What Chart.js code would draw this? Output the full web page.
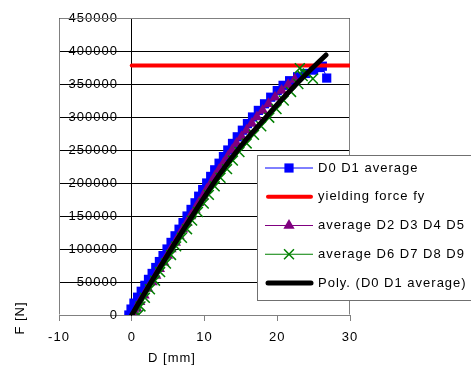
<!DOCTYPE html>
<html><head><meta charset="utf-8">
<script src="https://cdn.jsdelivr.net/npm/chart.js@4/dist/chart.umd.min.js"></script>
<style>html,body{margin:0;padding:0;background:#fff}#wrap{width:471px;height:366px;position:relative}</style>
</head><body><div id="wrap"><canvas id="c" width="471" height="366"></canvas></div>
<script>
// ---- data ----
const seriesLabels = ['D0 D1 average', 'yielding force fy', 'average D2 D3 D4 D5', 'average D6 D7 D8 D9', 'Poly. (D0 D1 average)'];

const d0d1D = [-0.4,-0.1,0.3,0.8,1.3,1.8,2.3,2.8,3.3,3.8,4.3,4.85,5.4,5.95,6.5,7.05,7.6,8.15,8.7,9.2,9.75,10.3,10.85,11.4,12.0,12.6,13.2,13.85,14.5,15.2,15.9,16.6,17.4,18.25,19.1,20.0,20.8,21.7,22.8,23.9,25.0,25.8,26.2,26.8];
const d0d1F = [0,9000,18000,27000,36000,45000,54000,63000,72000,81000,90000,100000,110000,120000,130000,140000,150000,160000,170000,180000,190000,200000,210000,220000,230000,240000,250000,260000,270000,280000,290000,300000,310000,320000,330000,340000,348000,355000,361000,366000,371000,375000,377000,359000];

const yieldD = [0, 30];
const yieldF = [378000, 378000];

const d2d5D = [0.6,0.7,1.1,1.7,2.2,2.8,3.3,3.8,4.4,4.9,5.4,6.0,6.5,7.0,7.6,8.1,8.7,9.2,9.8,10.3,10.9,11.4,12.0,12.6,13.2,13.8,14.4,15.1,15.8,16.5,17.2,18.0,18.8,19.7,20.6,21.5,22.4];
const d2d5F = [0,10000,20000,30000,40000,50000,60000,70000,80000,90000,100000,110000,120000,130000,140000,150000,160000,170000,180000,190000,200000,210000,220000,230000,240000,250000,260000,270000,280000,290000,300000,310000,320000,330000,340000,349000,357000];

const d6d9D = [0.9,1.2,1.8,2.5,3.2,3.9,4.7,5.4,6.1,6.9,7.6,8.3,9.1,9.9,10.6,11.4,12.2,13.1,13.9,14.8,15.8,16.8,17.8,18.9,19.9,20.9,21.9,22.9,23.5,23.1,24.2,24.9];
const d6d9F = [0,13000,26000,39000,52000,65000,78000,91000,104000,117000,130000,143000,156000,169000,182000,195000,208000,221000,234000,247000,260000,273000,286000,299000,312000,325000,338000,350000,362000,374000,366000,358000];

const polyD = [0,3,6,9,12,15,18,21,24,26.7];
const polyF = [0,56000,110000,162000,212000,256000,294000,331000,365000,394000];

const xTicks = [-10, 0, 10, 20, 30];
const yTicks = [0,50000,100000,150000,200000,250000,300000,350000,400000,450000];
const xTitle = 'D [mm]';
const yTitle = 'F [N]';

const pts = (xs, ys) => xs.map((x, i) => ({x, y: ys[i]}));
const FONT = '13px "Liberation Sans", Arial, sans-serif';

const decor = {
  id: 'decor',
  beforeDraw(chart) { chart.ctx.letterSpacing = '1px'; },
  beforeDatasetsDraw(chart) {
    const {ctx, chartArea: a} = chart;
    ctx.save();
    ctx.strokeStyle = '#808080';
    ctx.lineWidth = 1;
    ctx.beginPath();
    const l = Math.round(a.left) + 0.5, r = Math.round(a.right) - 0.5, t = Math.round(a.top) + 0.5, b = Math.round(a.bottom) - 0.5;
    ctx.moveTo(l, b); ctx.lineTo(l, t); ctx.lineTo(r, t); ctx.lineTo(r, b);
    ctx.stroke();
    ctx.restore();
  },
  afterDraw(chart) {
    const ctx = chart.ctx;
    ctx.save();
    ctx.letterSpacing = '1px';
    ctx.font = FONT;
    ctx.fillStyle = '#000';
    ctx.textAlign = 'center';
    ctx.textBaseline = 'middle';
    ctx.fillText(xTitle, 172, 358);
    ctx.save();
    ctx.translate(20, 318);
    ctx.rotate(-Math.PI / 2);
    ctx.fillText(yTitle, 0, 0);
    ctx.restore();
    // legend
    const lx = 257.5, ly = 155.5, lw = 240, lh = 145;
    ctx.fillStyle = '#fff';
    ctx.fillRect(lx, ly, lw, lh);
    ctx.strokeStyle = '#707070';
    ctx.lineWidth = 1;
    ctx.strokeRect(lx, ly, lw, lh);
    chart.data.datasets.forEach((ds, i) => {
      const y = 168 + i * 28.75;
      ctx.save();
      ctx.strokeStyle = ds.borderColor;
      ctx.lineWidth = ds.borderWidth;
      ctx.lineCap = ds.borderWidth > 2 ? 'round' : 'butt';
      ctx.beginPath(); ctx.moveTo(ds.borderWidth > 2 ? 268 : 265, y); ctx.lineTo(ds.borderWidth > 2 ? 311 : 313, y); ctx.stroke();
      if (ds.pointRadius > 0) {
        ctx.fillStyle = ds.pointBackgroundColor;
        ctx.strokeStyle = ds.pointBorderColor;
        ctx.lineWidth = ds.pointBorderWidth;
        Chart.helpers.drawPoint(ctx, {pointStyle: ds.pointStyle, radius: ds.pointRadius, borderWidth: ds.pointBorderWidth, rotation: 0}, 289, y);
      }
      ctx.restore();
      ctx.fillStyle = '#000';
      ctx.textAlign = 'left';
      ctx.textBaseline = 'middle';
      ctx.fillText(ds.label, 318, y);
    });
    ctx.restore();
  }
};

new Chart(document.getElementById('c'), {
  type: 'scatter',
  data: {
    datasets: [
      {label: seriesLabels[0], data: pts(d0d1D, d0d1F), showLine: true, borderColor: '#0000FF', borderWidth: 1,
       pointStyle: 'rect', pointRadius: 6.5, pointBackgroundColor: '#0000FF', pointBorderColor: '#0000FF', pointBorderWidth: 0, order: 4},
      {label: seriesLabels[1], data: pts(yieldD, yieldF), showLine: true, borderColor: '#FF0000', borderWidth: 4, borderCapStyle: 'round',
       pointRadius: 0, order: 3},
      {label: seriesLabels[2], data: pts(d2d5D, d2d5F), showLine: true, borderColor: '#800080', borderWidth: 1,
       pointStyle: 'triangle', pointRadius: 6.5, pointBackgroundColor: '#800080', pointBorderColor: '#800080', pointBorderWidth: 0, order: 2},
      {label: seriesLabels[3], data: pts(d6d9D, d6d9F), showLine: true, borderColor: '#008000', borderWidth: 1,
       pointStyle: 'crossRot', pointRadius: 7, pointBackgroundColor: '#008000', pointBorderColor: '#008000', pointBorderWidth: 1.5, order: 1},
      {label: seriesLabels[4], data: pts(polyD, polyF), showLine: true, borderColor: '#000000', borderWidth: 5, borderCapStyle: 'round',
       tension: 0.4, cubicInterpolationMode: 'monotone', pointRadius: 0, order: 0}
    ]
  },
  options: {
    responsive: false,
    animation: false,
    devicePixelRatio: 1,
    layout: {padding: {left: 59, top: 18, right: 121, bottom: 51}},
    plugins: {legend: {display: false}, tooltip: {enabled: false}},
    scales: {
      x: {
        type: 'linear', min: -10, max: 30, position: {y: 0},
        afterBuildTicks: s => { s.ticks = xTicks.map(v => ({value: v})); },
        grid: {drawOnChartArea: false, drawTicks: true, tickLength: 5, tickColor: '#808080'},
        border: {color: '#808080', width: 1},
        ticks: {font: {family: '"Liberation Sans", Arial, sans-serif', size: 13}, color: '#000', padding: 10, maxRotation: 0}
      },
      y: {
        type: 'linear', min: 0, max: 450000, position: {x: 0},
        afterBuildTicks: s => { s.ticks = yTicks.map(v => ({value: v})); },
        grid: {color: '#000', lineWidth: 1, drawTicks: true, tickLength: 5, tickColor: '#000'},
        border: {color: '#000', width: 1},
        ticks: {font: {family: '"Liberation Sans", Arial, sans-serif', size: 13}, color: '#000', padding: 8, callback: v => String(v) + '   '}
      }
    }
  },
  plugins: [decor]
});
</script></body></html>
